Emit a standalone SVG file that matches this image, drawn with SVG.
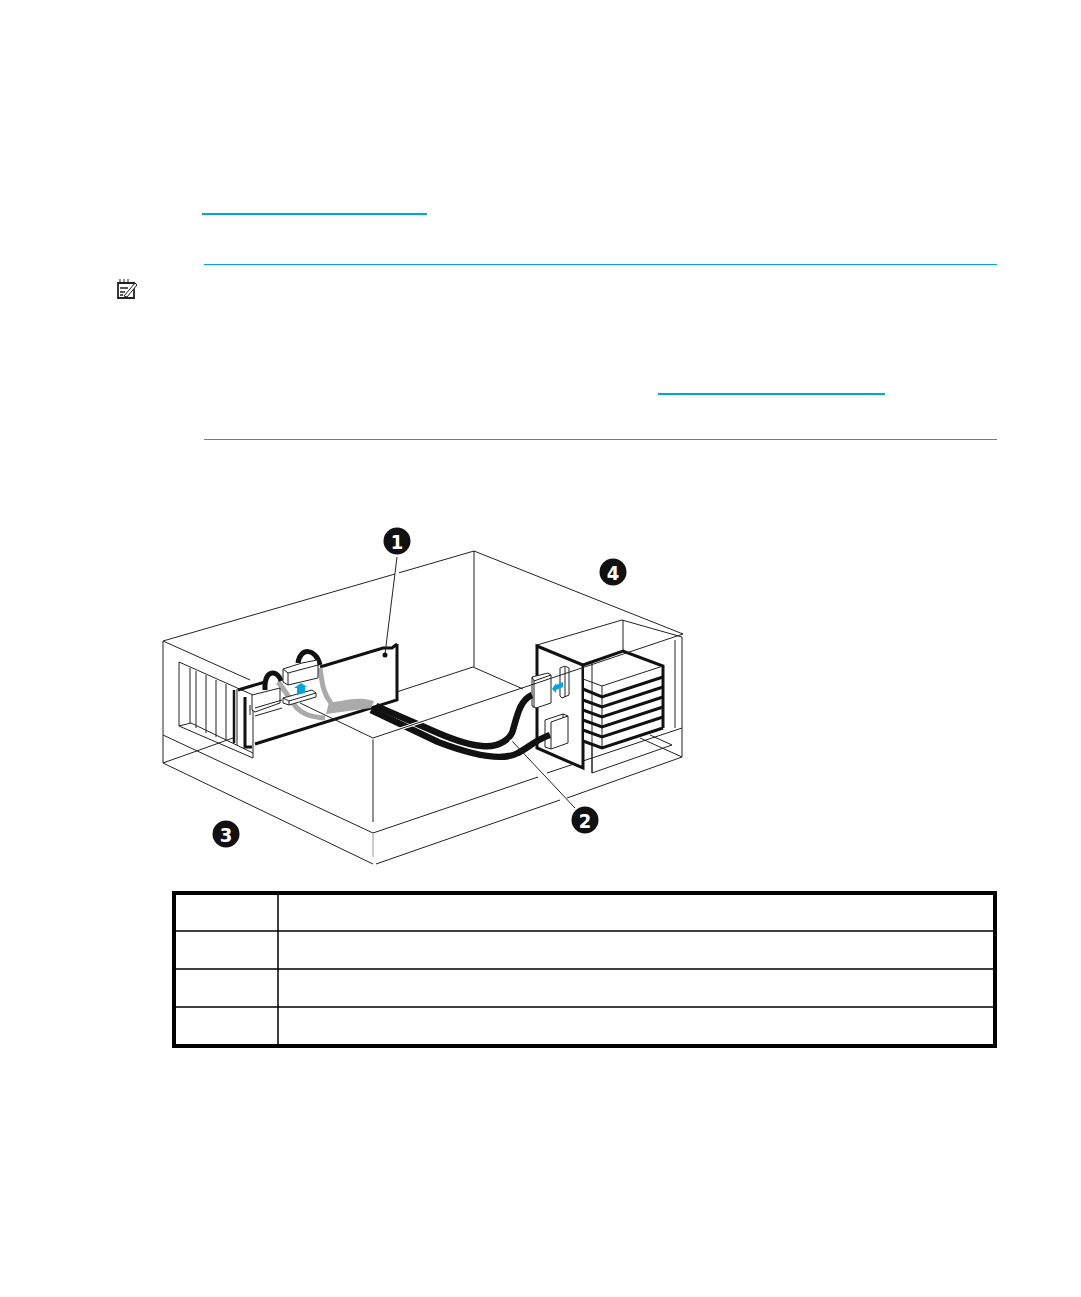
<svg xmlns="http://www.w3.org/2000/svg" width="1081" height="1297" viewBox="0 0 1081 1297">
<style>
.t{fill:none;stroke:#222;stroke-width:1}
.h{fill:none;stroke:#fff;stroke-width:3}
.k{fill:none;stroke:#111;stroke-width:3}
.w{fill:#fff;stroke:#222;stroke-width:1}
.c{fill:none;stroke:#111;stroke-width:6.500}
.g{fill:none;stroke:#aaa;stroke-width:5}
.n{fill:#111}
.d{fill:#fff;font-family:"DejaVu Sans",sans-serif;font-weight:bold;font-stretch:condensed;font-size:20px;text-anchor:middle}
.b{stroke:#00a4de;fill:none}
.a{fill:#00a4de}
</style>
<rect width="1081" height="1297" fill="#fff"/>
<g id="page-rules">
<path class="b" stroke-width="2" d="M202 214H427M658 394H885"/>
<path class="b" stroke-width="1" d="M204 264.500H997M204 439.500H997"/>
</g>
<g id="note-icon">
<path d="M118 283H134V298H118Z" fill="#fff" stroke="#222" stroke-width="1.800"/>
<path d="M120 288H128M120 292H125M120 295H123" stroke="#222" stroke-width="1.300"/>
<path d="M124 296L135 283L137 285L127 297Z" fill="#fff" stroke="#222" stroke-width="1"/>
<path d="M120 279V283M124 279V283M128 279V283" stroke="#222" stroke-width="1"/>
</g>
<g id="case-back">
<path class="t" d="M163 641L395 574M399 572.800L474 551L683 634M474 551V667M372 700L473 667L523 689"/>
<path class="t" d="M163 641V763L373 864M376 864L560 800M567 798L682 757V637"/>
<path class="t" d="M163 735L373 833L538 777M547 773L682 728"/>
<path class="t" d="M163 763L233 738"/>
<path class="t" d="M163 641L250 680"/>
<path class="t" d="M373 738V822"/>
<path d="M373 834V857" stroke="#999" stroke-width="1"/>
</g>
<g id="drive-cage">
<path class="t" d="M537 645L622 620L682 637M623 620V652M675 640V728M592 663V773L672 745L650 735M640 738L682 757"/>
<path d="M537 646L583 665V768L537 748Z" fill="#fff" stroke="#111" stroke-width="3"/>
<path d="M584 665L623 651L663 666V728L602 748L584 741Z" fill="#fff"/>
<path class="k" d="M583 665L623 651L663 666V728"/>
<path class="t" d="M592 663V773M602 686V748M663 666L602 686L583 679"/>
<path class="k" d="M583 689L602 697L663 677M583 700L602 707L663 687M583 710L602 717L663 697M583 720L602 727L663 707M583 730L602 737L663 717M583 741L602 748L663 728"/>
<path class="w" d="M560 668L565 666L569 668V695L562 698L560 696Z"/>
<path class="t" d="M565 667V697"/>
<path class="w" d="M532 677L548 673L551 675V703L536 708L532 706Z"/>
<path class="t" d="M532 677L534 681L551 675M534 681V708"/>
<path class="w" d="M545 720L563 714L568 716V743L551 749L545 747Z"/>
<path class="t" d="M551 722L568 716M551 722V749M563 714V718"/>
<path class="a" d="M552 689L556 683V685L563 682V687L556 690V693Z"/>
</g>
<g id="card">
<path d="M244 690L397 643V700L255 744V760L244 745Z" fill="#fff"/>
<path class="t" d="M179 662L253 695V758L179 726Z"/>
<path class="t" d="M179 726L191 723L253 753M190 668V723M196 671V728M206 675V733M216 680V737M226 684V741M237 689V745"/>
<path d="M234 690V743" stroke="#111" stroke-width="2.500"/>
<path class="k" d="M238 690L265 682M320 667L383 648H392L397 644M397 644V700L255 744"/>
<path class="k" d="M245 697V747H252"/>
<path d="M250 705V715" stroke="#222" stroke-width="1"/>
<path class="g" d="M278 682C285 690 290 700 297 708C304 715 312 717 325 718"/>
<path class="g" d="M320 668C322 680 322 692 331 703"/>
<path d="M329 702C340 703 355 695 374 701L371 708L326 714Z" fill="#aaa"/>
<path d="M265 690C264 668 278 670 281 681" fill="none" stroke="#111" stroke-width="5"/>
<path d="M298 663C300 647 316 648 320 665" fill="none" stroke="#111" stroke-width="5"/>
<path class="w" d="M252 695L280 688V703L255 712L252 710Z"/>
<path class="t" d="M255 708L282 700M255 716L282 708"/>
<path class="w" d="M283 669L302 663L317 660L318 665V678L288 685L283 682Z"/>
<path class="t" d="M283 669L288 673L318 665M288 673V685"/>
<path class="w" d="M283 698L312 690L316 693V697L289 705L283 703Z"/>
<path class="t" d="M283 698L289 701L316 693M289 701V705"/>
<path class="a" d="M301 683L294 688H297V695L305 693V687H307Z"/>
</g>
<g id="connectors">
<path class="c" d="M532 695C520 700 517 716 513 730C511 738 500 748 482 746C468 745 452 739 438 733L376 706"/>
<path class="c" d="M550 735C535 740 528 748 518 753C505 760 480 758 438 742L371 710"/>
<path class="h" d="M345 725L373 738L430 719"/>
<path class="t" d="M300 703L373 738L683 634"/>
<path class="t" d="M397 557L385 654"/>
<circle cx="385" cy="655" r="2.500" class="n"/>
<path class="t" d="M575 808L512 741"/>
<circle cx="511" cy="741" r="1.500" fill="#fff"/>
</g>
<g id="callout-1"><circle cx="397" cy="541" r="13.500" class="n"/><text class="d" x="397" y="548.500">1</text></g>
<g id="callout-2"><circle cx="585" cy="820" r="13.500" class="n"/><text class="d" x="585" y="827.500">2</text></g>
<g id="callout-3"><circle cx="226" cy="834" r="13.500" class="n"/><text class="d" x="226" y="841.500">3</text></g>
<g id="callout-4"><circle cx="613" cy="572" r="13.500" class="n"/><text class="d" x="613" y="579.500">4</text></g>
<g id="table">
<rect x="174" y="893" width="821" height="153" fill="none" stroke="#000" stroke-width="4"/>
<path d="M176 931H995M176 969H995M176 1007H995M278 895V1044" stroke="#000" stroke-width="1.500" fill="none"/>
</g>
</svg>
